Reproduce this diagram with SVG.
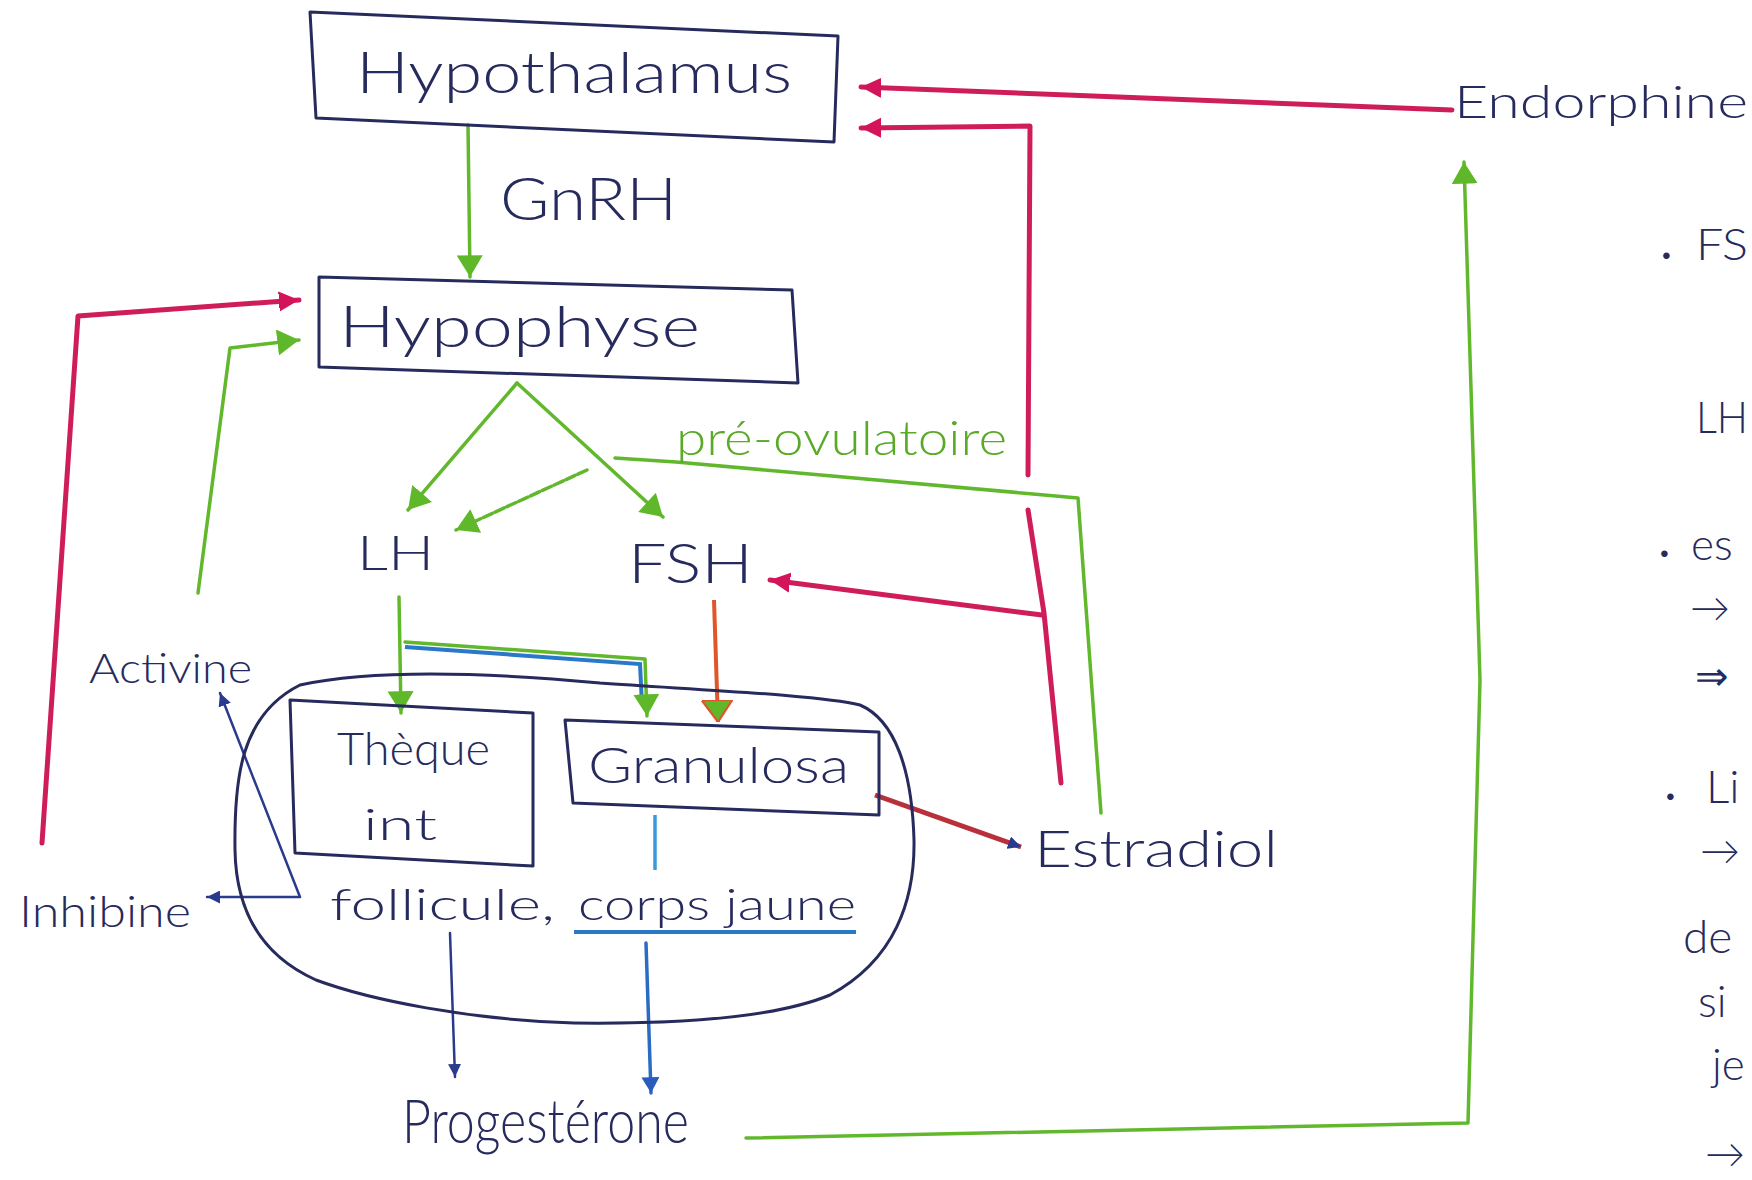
<svg xmlns="http://www.w3.org/2000/svg" width="1752" height="1180" viewBox="0 0 1752 1180">
<style>
  .t { font-family: "Lato", "Liberation Sans", Arial, sans-serif; font-weight: 300; fill: #262a5c; }
  .box { fill: none; stroke: #262a5c; stroke-width: 3; stroke-linejoin: round; }
  .g { fill: none; stroke: #62b82c; stroke-width: 3.5; stroke-linecap: round; stroke-linejoin: round; }
  .p { fill: none; stroke: #cf1d5c; stroke-width: 5; stroke-linecap: round; stroke-linejoin: round; }
  .n { fill: none; stroke: #2a3a8c; stroke-width: 2.5; stroke-linecap: round; stroke-linejoin: round; }
  .b { fill: none; stroke: #2a6cc4; stroke-width: 3.5; stroke-linecap: round; }
</style>
<defs>
  <marker id="ag" viewBox="0 0 20 24" refX="20" refY="12" markerWidth="22" markerHeight="26" orient="auto" markerUnits="userSpaceOnUse"><path d="M0,0 L20,12 L0,24 Z" fill="#5fb82a"/></marker>
  <marker id="ago" viewBox="0 0 20 28" refX="20" refY="14" markerWidth="22" markerHeight="32" orient="auto" markerUnits="userSpaceOnUse"><path d="M0,0 L20,14 L0,28 Z" fill="#5fb82a" stroke="#e0552a" stroke-width="2"/></marker>
  <marker id="ap" viewBox="0 0 20 24" refX="20" refY="12" markerWidth="20" markerHeight="24" orient="auto" markerUnits="userSpaceOnUse"><path d="M0,2 L20,12 L0,22 Q-3,12 0,2 Z" fill="#d4145a"/></marker>
  <marker id="an" viewBox="0 0 12 12" refX="12" refY="6" markerWidth="13" markerHeight="13" orient="auto-start-reverse" markerUnits="userSpaceOnUse"><path d="M0,0 L12,6 L0,12 Z" fill="#2a3a8c"/></marker>
  <marker id="ab" viewBox="0 0 14 16" refX="14" refY="8" markerWidth="16" markerHeight="18" orient="auto" markerUnits="userSpaceOnUse"><path d="M0,0 L14,8 L0,16 Z" fill="#2a5cc0"/></marker>
</defs>
<rect width="1752" height="1180" fill="#ffffff"/>

<g id="connectors">
  <path class="g" d="M468,125 L470,277" marker-end="url(#ag)"/>
  <path class="g" d="M517,383 L408,510" marker-end="url(#ag)"/>
  <path class="g" d="M517,383 L663,517" marker-end="url(#ag)"/>
  <path class="g" d="M1101,813 L1078,498 L676,462 L615,458"/>
  <path class="g" d="M587,470 L456,530" stroke-dasharray="10 3" marker-end="url(#ag)"/>
  <path class="g" d="M399,597 L401,713" marker-end="url(#ag)"/>
  <path d="M405,647 L640,664 L642,705" fill="none" stroke="#2a78c8" stroke-width="4"/>
  <path class="g" d="M405,642 L645,659 L647,716" stroke-width="5" marker-end="url(#ag)"/>
  <path d="M714,600 L718,722" fill="none" stroke="#e0552a" stroke-width="4" marker-end="url(#ago)"/>
  <path d="M875,795 L1021,847" fill="none" stroke="#b8303a" stroke-width="5" marker-end="url(#an)"/>
  <path d="M655,815 L655,870" fill="none" stroke="#3a9ad8" stroke-width="3.5"/>
  <path d="M574,932 L856,932" fill="none" stroke="#2a78c8" stroke-width="4"/>
  <path class="b" d="M646,943 L651,1093" marker-end="url(#ab)"/>
  <path class="n" d="M450,933 L455,1077" marker-end="url(#an)"/>
  <path class="n" d="M220,693 L300,897 L207,897" marker-start="url(#an)" marker-end="url(#an)"/>
  <path class="p" d="M1452,110 L861,87" marker-end="url(#ap)"/>
  <path class="p" d="M1061,783 L1044,613 L1028,510" stroke-width="4"/>
  <path class="p" d="M1028,475 L1030,126 L861,128" stroke-width="4.5" marker-end="url(#ap)"/>
  <path class="p" d="M1042,615 L770,580" marker-end="url(#ap)"/>
  <path class="p" d="M42,843 L78,316 L299,300" marker-end="url(#ap)"/>
  <path class="g" d="M198,593 L230,348 L299,340" marker-end="url(#ag)"/>
  <path class="g" d="M746,1138 L1468,1123 L1480,680 L1464,162" stroke-width="4" marker-end="url(#ag)"/>
</g>

<g id="follicle">
  <path class="box" d="M300,685 C360,672 460,670 600,683 C700,690 820,695 860,705 C895,720 912,770 914,840 C915,900 895,960 830,995 C770,1020 660,1024 574,1023 C470,1020 370,1000 316,980 C260,955 236,910 235,850 C234,780 240,715 300,685 Z" stroke-width="2.5"/>
</g>

<g id="hypothalamus">
  <path class="box" d="M310,12 L838,36 L834,142 L316,118 Z"/>
  <text class="t" x="356" y="93" font-size="58" textLength="436" lengthAdjust="spacingAndGlyphs">Hypothalamus</text>
</g>

<g id="gnrh">
  <text class="t" x="500" y="220" font-size="60" textLength="177" lengthAdjust="spacingAndGlyphs">GnRH</text>
</g>

<g id="hypophyse">
  <path class="box" d="M319,277 L792,290 L798,383 L319,367 Z"/>
  <text class="t" x="339" y="347" font-size="58" textLength="361" lengthAdjust="spacingAndGlyphs">Hypophyse</text>
</g>

<g id="endorphine">
  <text class="t" x="1454" y="118" font-size="46" textLength="294" lengthAdjust="spacingAndGlyphs">Endorphine</text>
</g>

<g id="preovulatoire">
  <text class="t" x="676" y="455" font-size="48" textLength="331" lengthAdjust="spacingAndGlyphs" style="fill:#5aaa28">pré-ovulatoire</text>
</g>

<g id="lh">
  <text class="t" x="357" y="570" font-size="48" textLength="77" lengthAdjust="spacingAndGlyphs">LH</text>
</g>

<g id="fsh">
  <text class="t" x="628" y="583" font-size="56" textLength="125" lengthAdjust="spacingAndGlyphs">FSH</text>
</g>

<g id="activine">
  <text class="t" x="89" y="683" font-size="42" textLength="163" lengthAdjust="spacingAndGlyphs">Activine</text>
</g>

<g id="theque">
  <path class="box" d="M290,700 L533,713 L533,866 L295,853 Z"/>
  <text class="t" x="337" y="765" font-size="46" textLength="153" lengthAdjust="spacingAndGlyphs">Thèque</text>
  <text class="t" x="363" y="840" font-size="44" textLength="74" lengthAdjust="spacingAndGlyphs">int</text>
</g>

<g id="granulosa">
  <path class="box" d="M565,720 L879,732 L879,815 L573,803 Z"/>
  <text class="t" x="588" y="783" font-size="50" textLength="261" lengthAdjust="spacingAndGlyphs">Granulosa</text>
</g>

<g id="estradiol">
  <text class="t" x="1034" y="867" font-size="52" textLength="244" lengthAdjust="spacingAndGlyphs">Estradiol</text>
</g>

<g id="inhibine">
  <text class="t" x="19" y="927" font-size="44" textLength="172" lengthAdjust="spacingAndGlyphs">Inhibine</text>
</g>

<g id="follicule-label">
  <text class="t" x="330" y="920" font-size="44" textLength="225" lengthAdjust="spacingAndGlyphs">follicule,</text>
  <text class="t" x="578" y="920" font-size="44" textLength="278" lengthAdjust="spacingAndGlyphs">corps jaune</text>
</g>

<g id="progesterone">
  <text class="t" x="402" y="1143" font-size="62" textLength="287" lengthAdjust="spacingAndGlyphs">Progestérone</text>
</g>

<g id="notes">
  <text class="t" x="1660" y="262" font-size="22">•</text>
  <text class="t" x="1696" y="260" font-size="44" textLength="52" lengthAdjust="spacingAndGlyphs">FS</text>
  <text class="t" x="1696" y="433" font-size="44" textLength="52" lengthAdjust="spacingAndGlyphs">LH</text>
  <text class="t" x="1658" y="560" font-size="22">•</text>
  <text class="t" x="1691" y="560" font-size="44">es</text>
  <text class="t" x="1690" y="622" font-size="40">→</text>
  <text class="t" x="1695" y="690" font-size="40">⇒</text>
  <text class="t" x="1664" y="803" font-size="22">•</text>
  <text class="t" x="1706" y="803" font-size="46">Li</text>
  <text class="t" x="1700" y="865" font-size="40">→</text>
  <text class="t" x="1683" y="953" font-size="46">de</text>
  <text class="t" x="1698" y="1017" font-size="44">si</text>
  <text class="t" x="1712" y="1080" font-size="44">je</text>
  <text class="t" x="1705" y="1168" font-size="40">→</text>
</g>
</svg>
